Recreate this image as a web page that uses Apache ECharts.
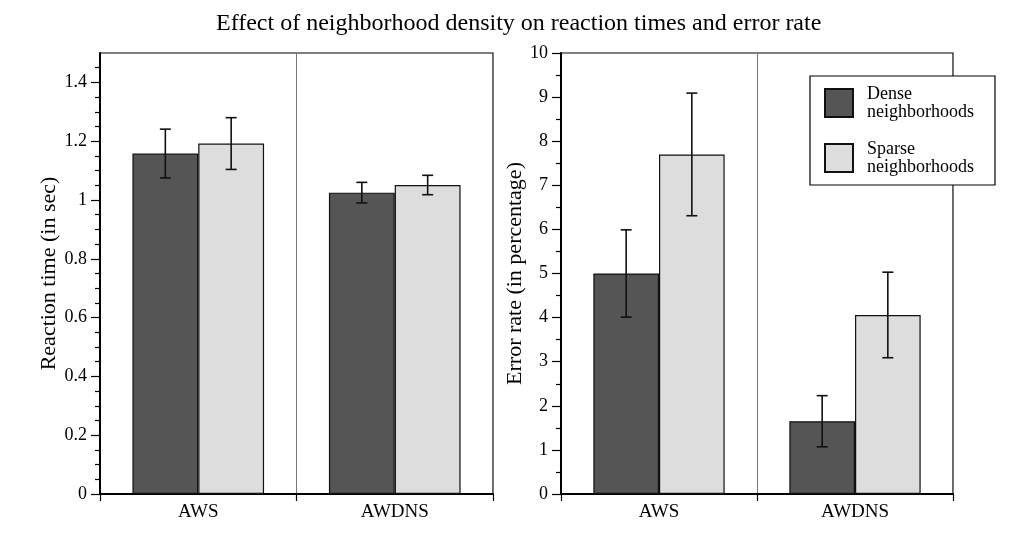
<!DOCTYPE html>
<html>
<head>
<meta charset="utf-8">
<script src="https://cdn.jsdelivr.net/npm/echarts@6/dist/echarts.min.js"></script>
<style>html,body{margin:0;padding:0;background:#fff}#c{width:1018px;height:538px}</style>
</head>
<body>
<div id="c"></div>
<script>
var categories = ['AWS', 'AWDNS'];
var seriesNames = ['Dense neighborhoods', 'Sparse neighborhoods'];
// Reaction time (sec)
var rtDense = [1.158, 1.025];
var rtDenseErr = [0.083, 0.035];
var rtSparse = [1.192, 1.051];
var rtSparseErr = [0.088, 0.033];
// Error rate (%)
var erDense = [5.0, 1.65];
var erDenseErr = [0.99, 0.58];
var erSparse = [7.7, 4.06];
var erSparseErr = [1.39, 0.97];
// Tick values for the reaction time axis
var rtMajorTicks = [0, 0.2, 0.4, 0.6, 0.8, 1, 1.2, 1.4];
var rtMinorTicks = [0.05, 0.1, 0.15, 0.25, 0.3, 0.35, 0.45, 0.5, 0.55, 0.65, 0.7, 0.75, 0.85, 0.9, 0.95, 1.05, 1.1, 1.15, 1.25, 1.3, 1.35, 1.45];

var FONT = 'Liberation Serif';
var DARK = '#555555', LIGHT = '#dddddd';
var GAP = 0.33;

function errData(vals, errs) {
  return vals.map(function (v, i) { return [i, v, errs[i]]; });
}
function errRender(side) {
  return function (params, api) {
    var cat = api.value(0), val = api.value(1), err = api.value(2);
    var c = api.coord([cat, val]);
    var band = api.size([1, 0])[0];
    var barW = band * (1 - GAP) / 2;
    var x = c[0] + side * barW / 2;
    var hi = api.coord([cat, val + err])[1];
    var lo = api.coord([cat, val - err])[1];
    var cap = 5.5;
    var st = { stroke: '#111', lineWidth: 1.6 };
    return {
      type: 'group',
      children: [
        { type: 'line', shape: { x1: x, y1: hi, x2: x, y2: lo }, style: st },
        { type: 'line', shape: { x1: x - cap, y1: hi, x2: x + cap, y2: hi }, style: st },
        { type: 'line', shape: { x1: x - cap, y1: lo, x2: x + cap, y2: lo }, style: st }
      ]
    };
  };
}

function xAxisDef(gi) {
  return {
    type: 'category', gridIndex: gi, data: categories, boundaryGap: true,
    axisLine: { lineStyle: { color: '#000', width: 2 } },
    axisTick: { show: true, length: 7, lineStyle: { color: '#000', width: 1.2 } },
    axisLabel: { color: '#000', fontFamily: FONT, fontSize: 19, margin: 9 },
    splitLine: { show: true, lineStyle: { color: '#777', width: 1 } }
  };
}

var labelFmt = function (v) { return String(+(+v).toFixed(1)); };

var option = {
  animation: false,
  backgroundColor: '#fff',
  title: {
    text: 'Effect of neighborhood density on reaction times and error rate',
    left: 211, top: 7,
    textStyle: { fontFamily: FONT, fontSize: 24, fontWeight: 'normal', color: '#000' }
  },
  legend: {
    data: seriesNames,
    orient: 'vertical',
    left: 810, top: 76,
    padding: [9, 21, 9, 14],
    itemGap: 19,
    itemWidth: 28, itemHeight: 28,
    icon: 'rect',
    backgroundColor: '#fff',
    borderColor: '#000', borderWidth: 1.2,
    formatter: function (n) { return n.replace(' ', '\n'); },
    textStyle: { fontFamily: FONT, fontSize: 18, lineHeight: 18, color: '#000', padding: [0, 0, 0, 9] },
    z: 10
  },
  grid: [
    { left: 100, top: 53, width: 393, height: 441, show: true, borderColor: '#000', borderWidth: 1.2, backgroundColor: 'transparent' },
    { left: 561, top: 53, width: 392, height: 441, show: true, borderColor: '#000', borderWidth: 1.2, backgroundColor: 'transparent' }
  ],
  xAxis: [xAxisDef(0), xAxisDef(1)],
  yAxis: [
    {
      type: 'value', gridIndex: 0, min: 0, max: 1.5, interval: 0.2,
      name: 'Reaction time (in sec)', nameLocation: 'middle', nameGap: 40,
      nameTextStyle: { fontFamily: FONT, fontSize: 22, color: '#000' },
      axisLine: { show: true, lineStyle: { color: '#000', width: 2 } },
      axisTick: { show: true, length: 9, customValues: rtMajorTicks, lineStyle: { color: '#000', width: 1.2 } },
      axisLabel: { customValues: rtMajorTicks, formatter: labelFmt, color: '#000', fontFamily: FONT, fontSize: 18, margin: 13 },
      splitLine: { show: false }
    },
    {
      type: 'value', gridIndex: 0, min: 0, max: 1.5, interval: 0.05, position: 'left',
      axisLine: { show: false },
      axisTick: { show: true, length: 5, customValues: rtMinorTicks, lineStyle: { color: '#000', width: 1.2 } },
      axisLabel: { show: false },
      splitLine: { show: false }
    },
    {
      type: 'value', gridIndex: 1, min: 0, max: 10, interval: 1,
      name: 'Error rate (in percentage)', nameLocation: 'middle', nameGap: 34,
      nameTextStyle: { fontFamily: FONT, fontSize: 22, color: '#000' },
      axisLine: { show: true, lineStyle: { color: '#000', width: 2 } },
      axisTick: { show: true, length: 9, lineStyle: { color: '#000', width: 1.2 } },
      minorTick: { show: true, splitNumber: 2, length: 5, lineStyle: { color: '#000', width: 1.2 } },
      axisLabel: { color: '#000', fontFamily: FONT, fontSize: 18, margin: 13 },
      splitLine: { show: false }, minorSplitLine: { show: false }
    }
  ],
  series: [
    { name: seriesNames[0], type: 'bar', xAxisIndex: 0, yAxisIndex: 0, data: rtDense, barGap: '0%', barCategoryGap: '33%',
      itemStyle: { color: DARK, borderColor: '#111', borderWidth: 1.2 } },
    { name: seriesNames[1], type: 'bar', xAxisIndex: 0, yAxisIndex: 0, data: rtSparse, barGap: '0%', barCategoryGap: '33%',
      itemStyle: { color: LIGHT, borderColor: '#111', borderWidth: 1.2 } },
    { type: 'custom', xAxisIndex: 0, yAxisIndex: 0, renderItem: errRender(-1), data: errData(rtDense, rtDenseErr), z: 5 },
    { type: 'custom', xAxisIndex: 0, yAxisIndex: 0, renderItem: errRender(1), data: errData(rtSparse, rtSparseErr), z: 5 },

    { name: seriesNames[0], type: 'bar', xAxisIndex: 1, yAxisIndex: 2, data: erDense, barGap: '0%', barCategoryGap: '33%',
      itemStyle: { color: DARK, borderColor: '#111', borderWidth: 1.2 } },
    { name: seriesNames[1], type: 'bar', xAxisIndex: 1, yAxisIndex: 2, data: erSparse, barGap: '0%', barCategoryGap: '33%',
      itemStyle: { color: LIGHT, borderColor: '#111', borderWidth: 1.2 } },
    { type: 'custom', xAxisIndex: 1, yAxisIndex: 2, renderItem: errRender(-1), data: errData(erDense, erDenseErr), z: 5 },
    { type: 'custom', xAxisIndex: 1, yAxisIndex: 2, renderItem: errRender(1), data: errData(erSparse, erSparseErr), z: 5 }
  ]
};
var chart = echarts.init(document.getElementById('c'), null, { renderer: 'canvas' });
chart.setOption(option);
</script>
</body>
</html>
